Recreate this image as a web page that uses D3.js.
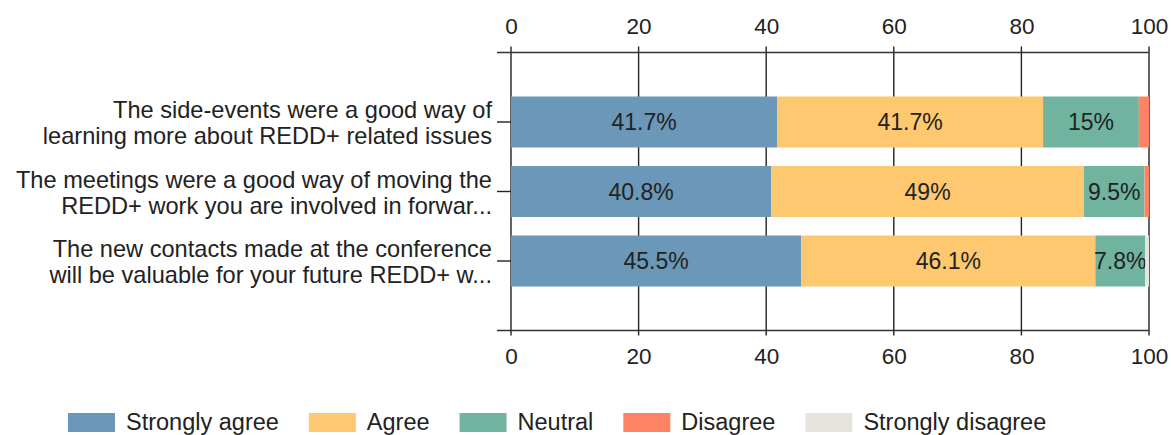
<!DOCTYPE html>
<html>
<head>
<meta charset="utf-8">
<script src="https://cdn.jsdelivr.net/npm/d3@7"></script>
<style>
  body { margin: 0; background: #fff; }
  text { font-family: Arial, "Liberation Sans", sans-serif; fill: #222; }
</style>
</head>
<body>
<div id="chart"></div>
<script>
// statements (each label split in two lines as in the picture)
var questions = [
  ["The side-events were a good way of", "learning more about REDD+ related issues"],
  ["The meetings were a good way of moving the", "REDD+ work you are involved in forwar..."],
  ["The new contacts made at the conference", "will be valuable for your future REDD+ w..."]
];
var answers = ["Strongly agree", "Agree", "Neutral", "Disagree", "Strongly disagree"];
var stronglyAgree    = [41.7, 40.8, 45.5];
var agree            = [41.7, 49, 46.1];
var neutral          = [15, 9.5, 7.8];
var disagree         = [1.6, 0.7, 0];
var stronglyDisagree = [0, 0, 0.6];
var xTicks = [0, 20, 40, 60, 80, 100];
var colors = ["#6b98b8", "#fec870", "#70b4a0", "#fe8365", "#e7e4dd"];

var width = 1171, height = 435;

var svg = d3.select("#chart").append("svg")
    .attr("width", width)
    .attr("height", height);

var x = d3.scaleLinear().domain([0, 100]).range([511, 1149]);
// categories sit at 1,2,3 on a 0..4 scale between the two axes
var y = d3.scaleLinear().domain([0, 4]).range([52.5, 330.5]);
var barH = 51;

var rows = questions.map(function(q, i) {
  return {
    idx: i,
    "Strongly agree": stronglyAgree[i],
    "Agree": agree[i],
    "Neutral": neutral[i],
    "Disagree": disagree[i],
    "Strongly disagree": stronglyDisagree[i]
  };
});
var stacked = d3.stack().keys(answers)(rows);

// gridlines
svg.append("g")
  .selectAll("line")
  .data(xTicks)
  .enter().append("line")
    .attr("x1", function(d) { return x(d); })
    .attr("x2", function(d) { return x(d); })
    .attr("y1", y(0) - 6)
    .attr("y2", y(4) + 5)
    .style("stroke", "#222")
    .style("stroke-width", 1.4);

// axes
var topAxis = d3.axisTop(x).tickValues(xTicks).tickSize(0).tickPadding(19);
var bottomAxis = d3.axisBottom(x).tickValues(xTicks).tickSize(0).tickPadding(18);

[[topAxis, y(0)], [bottomAxis, y(4)]].forEach(function(a) {
  var g = svg.append("g")
      .attr("transform", "translate(0," + a[1] + ")")
      .call(a[0]);
  g.select(".domain").remove();
  g.selectAll("text")
      .style("font-size", "22.5px")
      .style("font-family", "Arial, 'Liberation Sans', sans-serif")
      .attr("fill", "#1a1a1a");
  g.append("line")
      .attr("x1", 497).attr("x2", x(100))
      .style("stroke", "#333")
      .style("stroke-width", 1.6);
});

// bars
var layer = svg.append("g")
  .selectAll("g")
  .data(stacked)
  .enter().append("g")
    .style("fill", function(d, i) { return colors[i]; });

layer.selectAll("rect")
  .data(function(d) { return d; })
  .enter().append("rect")
    .attr("x", function(d) { return x(d[0]); })
    .attr("width", function(d) { return x(d[1]) - x(d[0]); })
    .attr("y", function(d) { return y(d.data.idx + 1) - barH / 2; })
    .attr("height", barH);

// value labels
layer.selectAll("text")
  .data(function(d) {
    return d.filter(function(s) { return s[1] - s[0] >= 5; });
  })
  .enter().append("text")
    .attr("x", function(d) { return (x(d[0]) + x(d[1])) / 2; })
    .attr("y", function(d) { return y(d.data.idx + 1); })
    .attr("dy", "0.36em")
    .attr("text-anchor", "middle")
    .style("font-size", "23px")
    .text(function(d) { return +(d[1] - d[0]).toFixed(1) + "%"; });

// category ticks and labels
var cat = svg.append("g")
  .selectAll("g")
  .data(questions)
  .enter().append("g")
    .attr("transform", function(d, i) { return "translate(0," + y(i + 1) + ")"; });

cat.append("line")
    .attr("x1", 497).attr("x2", x(0))
    .style("stroke", "#222")
    .style("stroke-width", 1.4);

cat.append("text")
    .attr("text-anchor", "end")
    .style("font-size", "23.6px")
    .selectAll("tspan")
    .data(function(d) { return d; })
    .enter().append("tspan")
      .attr("x", 492)
      .attr("y", function(d, i) { return i === 0 ? -4 : 22; })
      .text(function(d) { return d; });

// legend
var legend = svg.append("g").attr("transform", "translate(68,413)");
var lx = 0;
answers.forEach(function(a, i) {
  var item = legend.append("g").attr("transform", "translate(" + lx + ",0)");
  item.append("rect")
      .attr("width", 47)
      .attr("height", 19)
      .style("fill", colors[i]);
  var t = item.append("text")
      .attr("x", 58)
      .attr("y", 17)
      .style("font-size", "23.5px")
      .text(a);
  lx += 58 + t.node().getComputedTextLength() + 30;
});
</script>
</body>
</html>
